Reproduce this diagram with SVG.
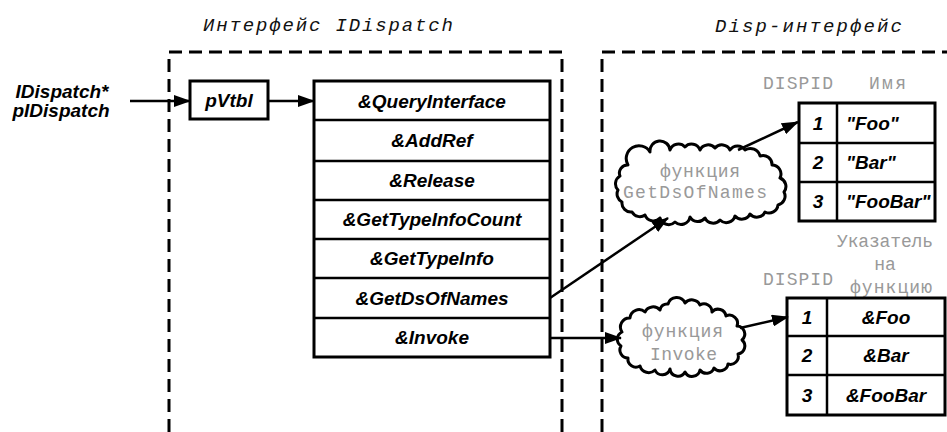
<svg xmlns="http://www.w3.org/2000/svg" width="947" height="432" viewBox="0 0 947 432">
<style>
.lbl{font-family:"Liberation Sans",Arial,sans-serif;font-weight:bold;font-style:italic;font-size:19px;fill:#000}
.mid{text-anchor:middle}
.gray{font-family:"Liberation Mono","Courier New",monospace;font-size:18px;fill:#999}
.title{font-family:"Liberation Mono","Courier New",monospace;font-style:italic;font-size:19px;fill:#111}
.frame{fill:none;stroke:#000;stroke-width:3;stroke-dasharray:13 7}
.box{fill:#fff;stroke:#000;stroke-width:3}
.sep{stroke:#000;stroke-width:2.5}
.cloud{fill:#fff;stroke:#000;stroke-width:3;stroke-linejoin:round}
.conn{fill:none;stroke:#000;stroke-width:2.5}
</style>
<defs>
<marker id="ah" markerWidth="17" markerHeight="12" refX="16" refY="6" orient="auto" markerUnits="userSpaceOnUse">
<path d="M0,0 L17,6 L0,12 z" fill="#000"/>
</marker>
</defs>
<rect width="947" height="432" fill="#fff"/>

<g id="frame-idispatch">
<path class="frame" d="M169,432 V52 H562 V432"/>
<text class="title" x="203" y="31" textLength="250" lengthAdjust="spacing">Интерфейс IDispatch</text>
</g>
<g id="frame-disp">
<path class="frame" d="M602,432 V52 H947"/>
<text class="title" x="715" y="32" textLength="187" lengthAdjust="spacing">Disp-интерфейс</text>
</g>

<g id="pointer">
<text class="lbl mid" x="62" y="98">IDispatch*</text>
<text class="lbl mid" x="61" y="117">pIDispatch</text>
</g>

<g id="pvtbl">
<rect class="box" x="190" y="81" width="78" height="38"/>
<text class="lbl mid" x="229" y="107">pVtbl</text>
</g>

<g id="vtable">
<rect class="box" x="314" y="81" width="236" height="276"/>
<line class="sep" x1="314" y1="120" x2="550" y2="120" stroke-width="4"/>
<line class="sep" x1="314" y1="161" x2="550" y2="161"/>
<line class="sep" x1="314" y1="200" x2="550" y2="200"/>
<line class="sep" x1="314" y1="239" x2="550" y2="239"/>
<line class="sep" x1="314" y1="278" x2="550" y2="278"/>
<line class="sep" x1="314" y1="318" x2="550" y2="318" stroke-width="4.5"/>
<text class="lbl mid" x="432" y="108">&amp;QueryInterface</text>
<text class="lbl mid" x="432" y="147">&amp;AddRef</text>
<text class="lbl mid" x="432" y="187">&amp;Release</text>
<text class="lbl mid" x="432" y="226">&amp;GetTypeInfoCount</text>
<text class="lbl mid" x="432" y="265">&amp;GetTypeInfo</text>
<text class="lbl mid" x="432" y="305">&amp;GetDsOfNames</text>
<text class="lbl mid" x="432" y="344">&amp;Invoke</text>
</g>

<g id="cloud-getids">
<path class="cloud" d="M628,165 A10,10 0 0 1 650,152 A10,10 0 0 1 670,150 A9,9 0 0 1 685,147 A9,9 0 0 1 700,150 A9,9 0 0 1 715,148 A9,9 0 0 1 730,150 A9,9 0 0 1 745,150 A10,10 0 0 1 760,156 A9,9 0 0 1 772,165 A9,9 0 0 1 780,178 A9,9 0 0 1 784,192 A9,9 0 0 1 778,205 A9,9 0 0 1 765,212 A9,9 0 0 1 750,214 A9,9 0 0 1 735,216 A9,9 0 0 1 720,220 A9,9 0 0 1 705,218 A9,9 0 0 1 690,217 A9,9 0 0 1 675,222 A9,9 0 0 1 660,218 A9,9 0 0 1 645,215 A9,9 0 0 1 632,212 A9,9 0 0 1 622,202 A9,9 0 0 1 618,190 A9,9 0 0 1 620,176 A8,8 0 0 1 628,165 Z"/>
<text class="gray" x="660" y="177" textLength="80" lengthAdjust="spacing">функция</text>
<text class="gray" x="623" y="198" textLength="144" lengthAdjust="spacing">GetDsOfNames</text>
</g>

<g id="cloud-invoke">
<path class="cloud" d="M622,332 A9,9 0 0 1 630,318 A9,9 0 0 1 645,312 A9,9 0 0 1 660,310 A7,7 0 0 1 668,304 A9,9 0 0 1 685,303 A9,9 0 0 1 700,305 A8,8 0 0 1 712,312 A8,8 0 0 1 726,316 A8,8 0 0 1 737,326 A8,8 0 0 1 742,340 A8,8 0 0 1 738,354 A8,8 0 0 1 728,364 A8,8 0 0 1 714,368 A8,8 0 0 1 700,370 A8,8 0 0 1 685,372 A8,8 0 0 1 670,369 A8,8 0 0 1 655,370 A9,9 0 0 1 640,366 A8,8 0 0 1 628,358 A8,8 0 0 1 621,346 A8,8 0 0 1 622,332 Z"/>
<text class="gray" x="642" y="337" textLength="81" lengthAdjust="spacing">функция</text>
<text class="gray" x="650" y="360" textLength="67" lengthAdjust="spacing">Invoke</text>
</g>

<g id="names-table">
<text class="gray" x="763" y="89" textLength="70" lengthAdjust="spacing">DISPID</text>
<text class="gray" x="869" y="89" textLength="37" lengthAdjust="spacing">Имя</text>
<rect class="box" x="799" y="103" width="136" height="118"/>
<line class="sep" x1="837" y1="103" x2="837" y2="221"/>
<line class="sep" x1="799" y1="143" x2="935" y2="143"/>
<line class="sep" x1="799" y1="182" x2="935" y2="182"/>
<text class="lbl mid" x="818" y="130">1</text>
<text class="lbl mid" x="818" y="169">2</text>
<text class="lbl mid" x="818" y="208">3</text>
<text class="lbl" x="846" y="130">"Foo"</text>
<text class="lbl" x="846" y="169">"Bar"</text>
<text class="lbl" x="846" y="208">"FooBar"</text>
</g>

<g id="pointers-table">
<text class="gray" x="837" y="247" textLength="96" lengthAdjust="spacing">Указатель</text>
<text class="gray mid" x="885" y="270">на</text>
<text class="gray" x="850" y="293" textLength="82" lengthAdjust="spacing">функцию</text>
<text class="gray" x="763" y="285" textLength="70" lengthAdjust="spacing">DISPID</text>
<rect class="box" x="787" y="298" width="158" height="117"/>
<line class="sep" x1="827" y1="298" x2="827" y2="415"/>
<line class="sep" x1="787" y1="336" x2="945" y2="336"/>
<line class="sep" x1="787" y1="375" x2="945" y2="375"/>
<text class="lbl mid" x="807" y="324">1</text>
<text class="lbl mid" x="807" y="362">2</text>
<text class="lbl mid" x="807" y="402">3</text>
<text class="lbl mid" x="886" y="324">&amp;Foo</text>
<text class="lbl mid" x="886" y="362">&amp;Bar</text>
<text class="lbl mid" x="886" y="402">&amp;FooBar</text>
</g>

<g id="connectors">
<line class="conn" x1="130" y1="101" x2="190" y2="101" marker-end="url(#ah)"/>
<line class="conn" x1="268" y1="101" x2="314" y2="101" marker-end="url(#ah)"/>
<line class="conn" x1="550" y1="298" x2="668" y2="218" marker-end="url(#ah)"/>
<line class="conn" x1="738" y1="150" x2="798" y2="122" marker-end="url(#ah)"/>
<line class="conn" x1="550" y1="338" x2="621" y2="338" marker-end="url(#ah)"/>
<line class="conn" x1="740" y1="328" x2="788" y2="317" marker-end="url(#ah)"/>
</g>
</svg>
